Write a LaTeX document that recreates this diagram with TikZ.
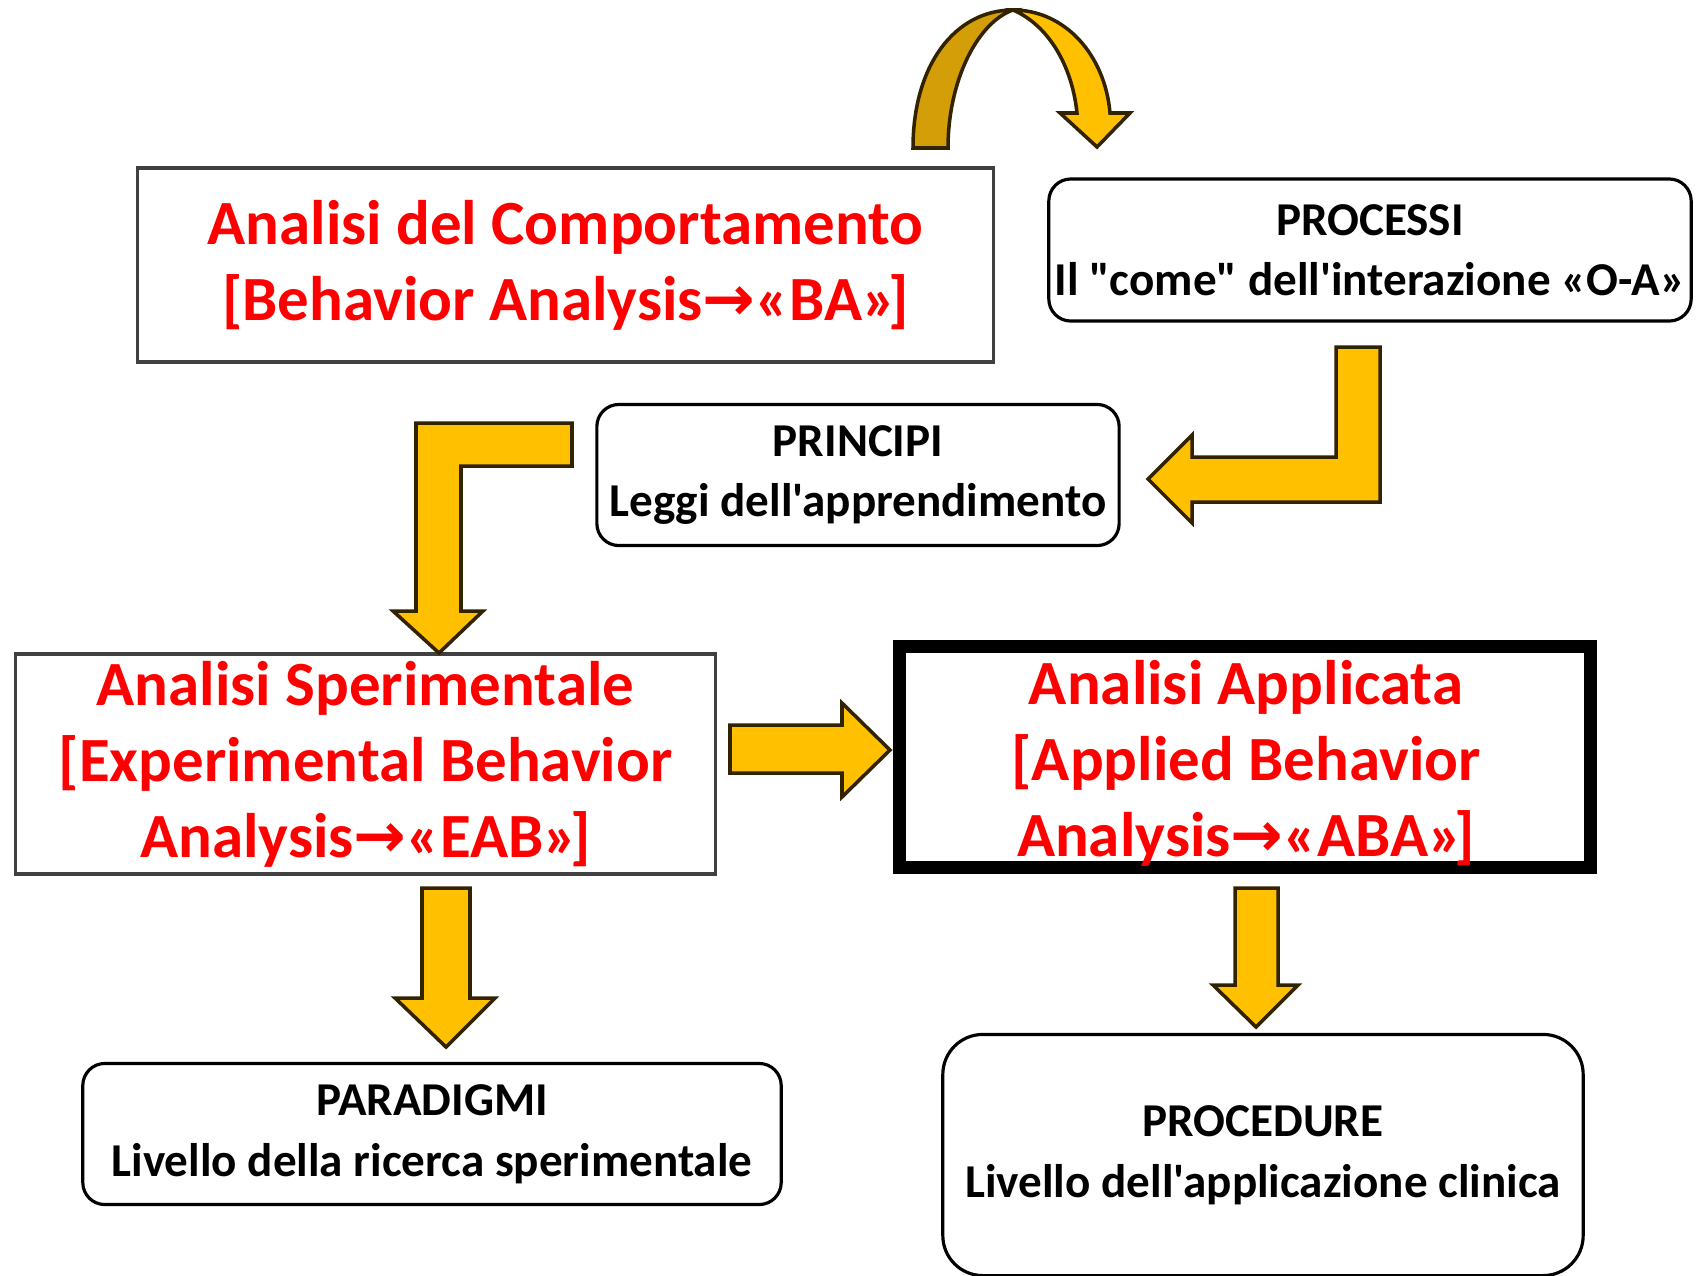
\documentclass[tikz,border=0pt]{standalone}
\usepackage{fontspec}
\setmainfont{Carlito}[Ligatures=TeXOff]
\newfontfamily\arrowfont{DejaVu Sans}
\definecolor{arrowgold}{RGB}{255,192,0}
\definecolor{arrowdark}{RGB}{212,158,8}
\definecolor{arrowedge}{RGB}{50,35,0}
\newcommand{\toarrow}{{\arrowfont\bfseries →}}
\newcommand{\closebr}{\kern-0.12em]}

\begin{document}
\begin{tikzpicture}[x=0.01cm,y=-0.01cm,
  redtext/.style={inner sep=0pt,align=center,text=red,font=\bfseries\fontsize{17.9}{21.6}\selectfont},
  mainbox/.style={redtext,draw=black!75,line width=0.9pt,fill=white},
  levelbox/.style={draw=black,line width=0.9pt,rounded corners=0.22cm,fill=white,inner sep=0pt,align=center,font=\bfseries\fontsize{13.4}{17.2}\selectfont},
  blockarrow/.style={fill=arrowgold,draw=arrowedge,line width=1pt,line join=miter}]

\useasboundingbox (0,0) rectangle (1696,1275);

\node[mainbox,minimum width=8.55cm,minimum height=1.94cm] (ba) at (565.5,265) {Analisi del Comportamento\\{}[Behavior Analysis\toarrow«BA»\closebr};
\node[levelbox,minimum width=6.42cm,minimum height=1.42cm] (processi) at (1370,250) {PROCESSI\\Il "come" dell'interazione «O-A»};
\node[levelbox,minimum width=5.22cm,minimum height=1.41cm] (principi) at (858,475) {PRINCIPI\\Leggi dell'apprendimento};

\node[mainbox,minimum width=6.99cm,minimum height=2.2cm] (eab) at (365.5,764) {Analisi Sperimentale\\{}[Experimental Behavior\\Analysis\toarrow«EAB»\closebr};
\node[mainbox,draw=black,line width=0.13cm,minimum width=6.9cm,minimum height=2.2cm] (aba) at (1245,757) {};
\node[redtext] (abatext) at (1246,763) {Analisi Applicata\\{}[Applied Behavior\\Analysis\toarrow«ABA»\closebr};

\node[levelbox,minimum width=6.98cm,minimum height=1.41cm] (paradigmi) at (432,1134) {PARADIGMI\\Livello della ricerca sperimentale};
\node[levelbox,rounded corners=0.4cm,minimum width=6.4cm,minimum height=2.41cm] (procedure) at (1263,1155) {PROCEDURE\\Livello dell'applicazione clinica};

\filldraw[blockarrow,fill=arrowdark] (913,148) .. controls (913,65) and (955,10) .. (1013,10) .. controls (978,22) and (948,80) .. (948,148) -- cycle;
\filldraw[blockarrow] (1013,10) .. controls (1065,10) and (1105,55) .. (1110,113) -- (1130,113) -- (1097,147) -- (1060,113) -- (1077,113) .. controls (1072,65) and (1048,25) .. (1013,10) -- cycle;

\filldraw[blockarrow] (1336,347) -- (1380,347) -- (1380,502) -- (1192,502) -- (1192,523) -- (1148,479) -- (1192,435) -- (1192,457) -- (1336,457) -- cycle;
\filldraw[blockarrow] (572,423) -- (572,466) -- (461,466) -- (461,611) -- (483,611) -- (439,653) -- (393,611) -- (416,611) -- (416,423) -- cycle;

\filldraw[blockarrow] (730,725) -- (842,725) -- (842,703) -- (890,750) -- (842,797) -- (842,773) -- (730,773) -- cycle;

\filldraw[blockarrow] (422,888) -- (470,888) -- (470,998) -- (495,998) -- (446,1047) -- (395,998) -- (422,998) -- cycle;
\filldraw[blockarrow] (1235,888) -- (1278,888) -- (1278,985) -- (1298,985) -- (1256,1027) -- (1213,985) -- (1235,985) -- cycle;

\end{tikzpicture}
\end{document}
